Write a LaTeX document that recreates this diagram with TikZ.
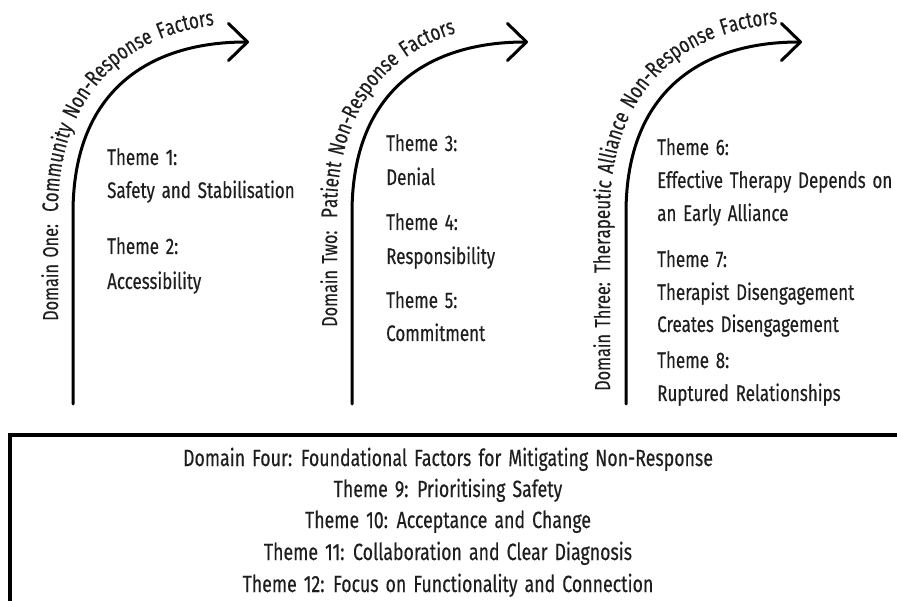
\documentclass[tikz,border=0pt]{standalone}
\usepackage{fontspec}
\setmainfont[FakeStretch=0.755,FakeBold=0.3,WordSpace=1.5]{Fira Sans}
\usetikzlibrary{arrows.meta,decorations.text}
\definecolor{ink}{HTML}{1E1E1E}
\newcommand{\themefont}{\fontsize{22.5}{27}\selectfont}
\newcommand{\labelfont}{\fontsize{21.5}{26}\selectfont}
\newcommand{\basefont}{\fontsize{23.5}{28}\selectfont}
\begin{document}
\begin{tikzpicture}[x=1pt,y=-1pt,
  flow/.style={line width=3pt, line cap=round, line join=round,
    -{Straight Barb[length=19pt,width=37pt,line width=3pt,round]}},
  theme/.style={anchor=base west, inner sep=0pt, text=ink, font=\themefont},
  found/.style={anchor=base, inner sep=0pt, text=ink, font=\basefont},
  domainlabel/.style={anchor=base west, inner sep=0pt, rotate=90, text=ink,
    font=\labelfont},
  bend label/.style={decorate, decoration={text along path, text align=left,
    text color=ink, text={|\themefont|#1}}}
]
\useasboundingbox (0,0) rectangle (897,601);
\fill[white] (0,0) rectangle (897,601);

% ---- curved domain arrows ----
\foreach \x/\n in {73/1, 352/2, 626/3} {
  \coordinate (foot\n) at (\x,404);
  \coordinate (bend\n) at (\x,213);
  \coordinate (tip\n)  at (\x+176,42);
  \draw[flow] (foot\n) -- (bend\n) .. controls (\x,90) and (\x+77,42) .. (tip\n);
}

% ---- domain labels ----
\node[domainlabel] (d1) at (58,321) {Domain One:};
\node[domainlabel] (d2) at (337,327) {Domain Two:};
\node[domainlabel] (d3) at (610,391) {Domain Three:};

\path[bend label={Community Non-Response Factors}]
  (58,212) .. controls (58,80) and (142,23) .. (249,23);
\path[bend label={Patient Non-Response Factors}]
  (337,218) -- (337,213) .. controls (337,80) and (421,23) .. (528,23);
\path[bend label={Therapeutic Alliance Non-Response Factors}]
  (610,273) -- (610,213) .. controls (610,80) and (694,23) .. (801,23);

% ---- themes, domain one ----
\node[theme] (t1a) at (107,165) {Theme 1:};
\node[theme] (t1b) at (107,198) {Safety and Stabilisation};
\node[theme] (t2a) at (107,254) {Theme 2:};
\node[theme] (t2b) at (107,289) {Accessibility};

% ---- themes, domain two ----
\node[theme] (t3a) at (386,151) {Theme 3:};
\node[theme] (t3b) at (386,185) {Denial};
\node[theme] (t4a) at (386,230) {Theme 4:};
\node[theme] (t4b) at (386,264) {Responsibility};
\node[theme] (t5a) at (386,308) {Theme 5:};
\node[theme] (t5b) at (386,341) {Commitment};

% ---- themes, domain three ----
\node[theme] (t6a) at (657,155) {Theme 6:};
\node[theme] (t6b) at (657,188) {Effective Therapy Depends on};
\node[theme] (t6c) at (657,221) {an Early Alliance};
\node[theme] (t7a) at (657,267) {Theme 7:};
\node[theme] (t7b) at (657,300) {Therapist Disengagement};
\node[theme] (t7c) at (657,332) {Creates Disengagement};
\node[theme] (t8a) at (657,368) {Theme 8:};
\node[theme] (t8b) at (657,401) {Ruptured Relationships};

% ---- domain four frame and contents ----
\draw[line width=3.5pt, line join=miter] (10,640) -- (10,435) -- (940,435);
\node[found] (d4)  at (448,466) {Domain Four: Foundational Factors for Mitigating Non-Response};
\node[found] (t9)  at (448,497) {Theme 9: Prioritising Safety};
\node[found] (t10) at (448,528) {Theme 10: Acceptance and Change};
\node[found] (t11) at (448,560) {Theme 11: Collaboration and Clear Diagnosis};
\node[found] (t12) at (448,592) {Theme 12: Focus on Functionality and Connection};
\end{tikzpicture}
\end{document}
